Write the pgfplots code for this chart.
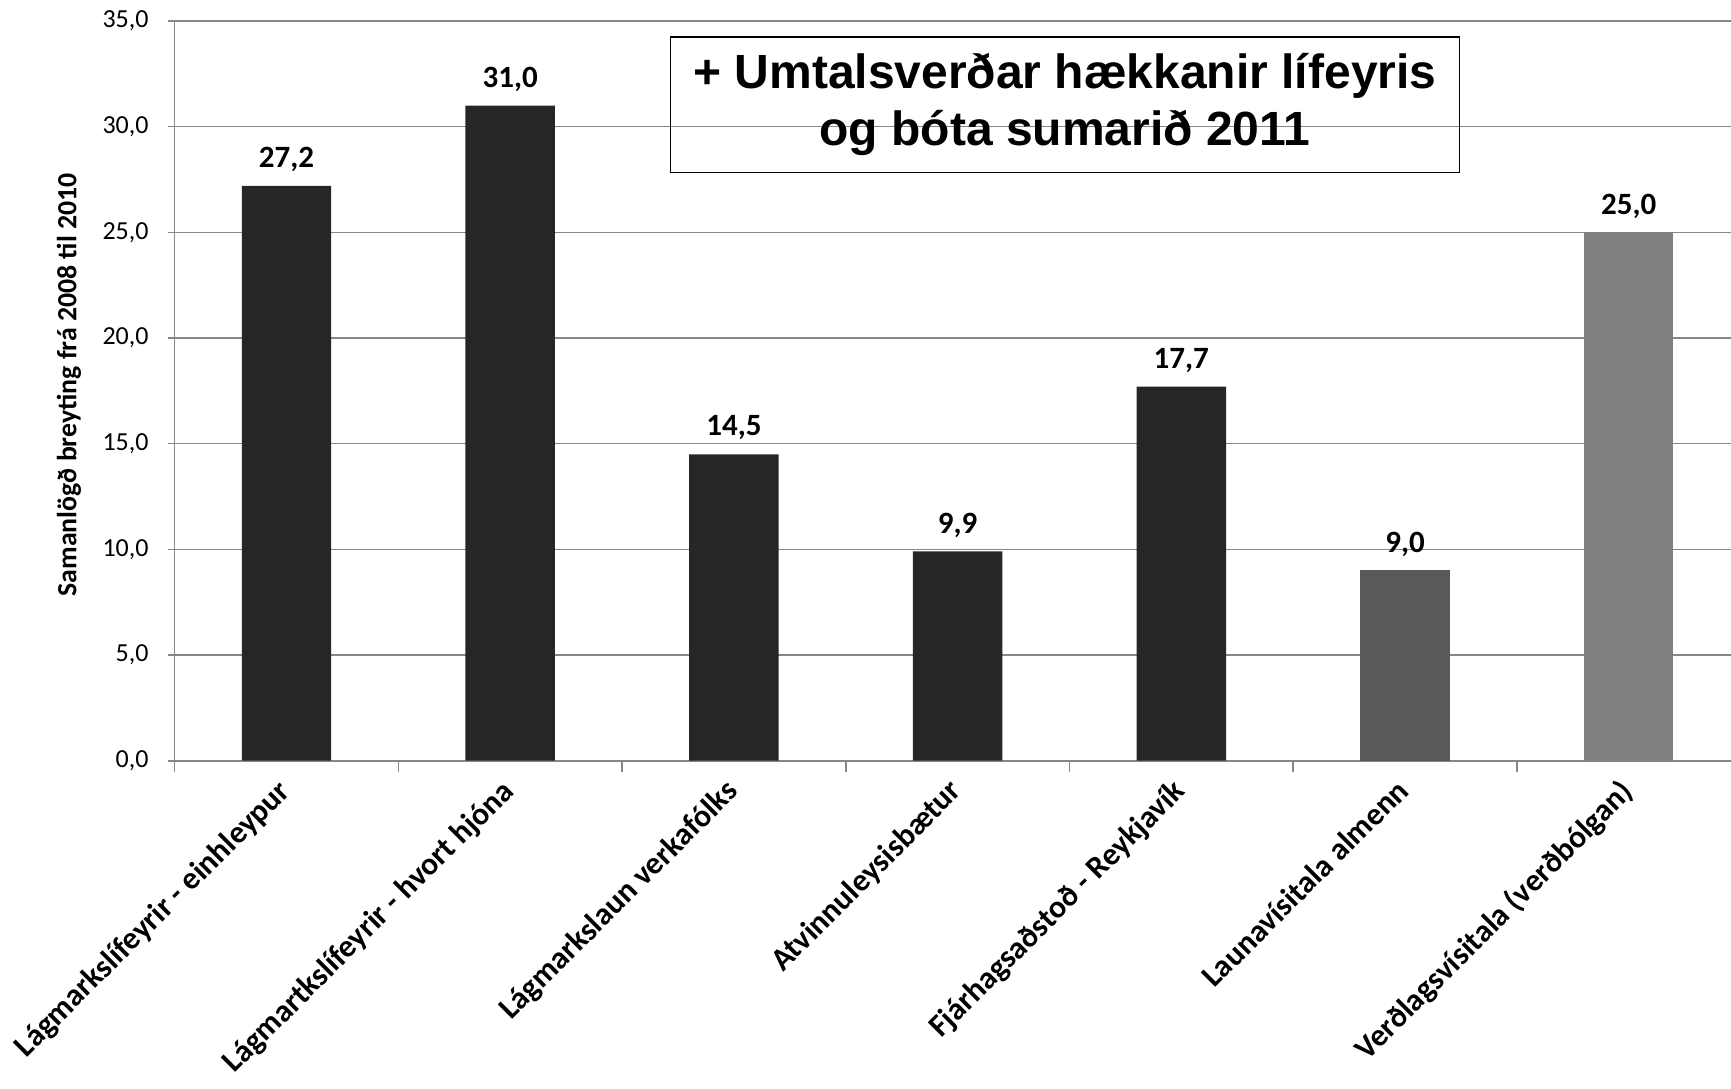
\documentclass[border=0pt]{standalone}
\usepackage{fontspec}
\setmainfont{Carlito}
\newfontfamily\arialfont{Liberation Sans}
\usepackage{pgfplots}
\pgfplotsset{compat=1.18}
\definecolor{bardark}{HTML}{262626}
\definecolor{barmid}{HTML}{595959}
\definecolor{barlight}{HTML}{808080}
\definecolor{gridgray}{HTML}{878787}
\begin{document}
\begin{tikzpicture}
\useasboundingbox (0,0) rectangle (865.5pt,544pt);
\begin{axis}[
  at={(87.3pt,163.65pt)}, anchor=south west,
  scale only axis, width=783pt, height=369.85pt,
  xmin=-0.5, xmax=6.5, ymin=0, ymax=35,
  ybar, bar width=44.7pt,
  clip=false,
  axis lines*=left,
  axis line style={gridgray, line width=0.8pt},
  ytick={0,5,...,35},
  ymajorgrids, grid style={gridgray, line width=0.8pt},
  xtick={0,...,6},
  xticklabels={Lágmarkslífeyrir - einhleypur, Lágmartkslífeyrir - hvort hjóna, Lágmarkslaun verkafólks, Atvinnuleysisbætur, Fjárhagsaðstoð - Reykjavík, Launavísitala almenn, Verðlagsvísitala (verðbólgan)},
  minor xtick={-0.5,0.5,...,6.5},
  major x tick style={draw=none},
  tick align=outside,
  major tick length=3.5pt, minor tick length=5.5pt,
  tick style={gridgray, line width=0.8pt},
  /pgf/number format/use comma,
  /pgf/number format/fixed,
  /pgf/number format/fixed zerofill,
  /pgf/number format/precision=1,
  /pgf/number format/assume math mode=true,
  yticklabel style={font=\fontsize{13}{15}\selectfont, text=black, xshift=-6pt},
  xticklabel style={font=\bfseries\fontsize{15.8}{18}\selectfont, rotate=45, anchor=north east, text=black, xshift=-3.6pt, yshift=3.8pt},
  every axis y label/.style={at={(axis description cs:0,0.5)}, rotate=90, anchor=center, yshift=52.8pt, xshift=3pt, font=\bfseries\fontsize{13.9}{16}\selectfont},
  ylabel={Samanlögð breyting frá 2008 til 2010},
  nodes near coords,
  every node near coord/.append style={font=\bfseries\fontsize{15.5}{18}\selectfont, text=black, yshift=3.5pt},
]
\addplot[fill=bardark, draw=none, bar shift=0pt] coordinates {(0,27.2) (1,31.0) (2,14.5) (3,9.9) (4,17.7)};
\addplot[fill=barmid, draw=none, bar shift=0pt] coordinates {(5,9.0)};
\addplot[fill=barlight, draw=none, bar shift=0pt] coordinates {(6,25.0)};
\node[draw=black, line width=0.8pt, minimum width=394.5pt, minimum height=67.75pt, align=center, font=\arialfont\bfseries\fontsize{24}{28.5}\selectfont, inner sep=0pt] at (axis cs:3.48,31.03) {+ Umtalsverðar hækkanir lífeyris\\og bóta sumarið 2011};
\end{axis}
\end{tikzpicture}
\end{document}
